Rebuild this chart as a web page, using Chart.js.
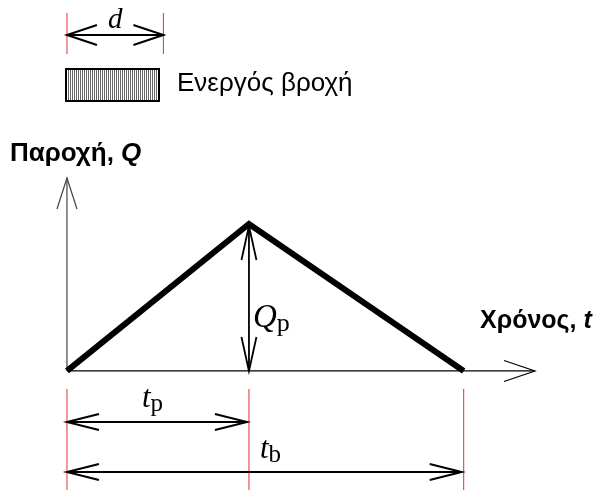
<!DOCTYPE html>
<html>
<head>
<meta charset="utf-8">
<script src="https://cdn.jsdelivr.net/npm/chart.js@4/dist/chart.umd.min.js"></script>
<style>
  body { margin: 0; background: #fff; }
  #wrap { width: 600px; height: 490px; }
</style>
</head>
<body>
<div id="wrap"><canvas id="hydro" width="600" height="490"></canvas></div>
<script>
// triangular hydrograph (relative units: tp = 1, Qp = 1)
var timeVals = [0, 1, 2.18];      // 0, tp, tb
var flowVals = [0, 1, 0];         // 0, Qp, 0
var rainDur = 0.53;               // d
var axisLabels = ['Παροχή, ', 'Q', 'Χρόνος, ', 't'];
var legendLabel = 'Ενεργός βροχή';

function arrowHead(c, x, y, dx, dy, len, half) { // open V head, apex at x,y
	var n = Math.sqrt(dx*dx + dy*dy); dx /= n; dy /= n;
	var bx = x - dx*len, by = y - dy*len;
	c.beginPath();
	c.moveTo(bx - dy*half, by + dx*half);
	c.lineTo(x, y);
	c.lineTo(bx + dy*half, by - dx*half);
	c.stroke();
}

function dimArrow(c, x1, x2, y, len, half) {
	c.beginPath(); c.moveTo(x1, y); c.lineTo(x2, y); c.stroke();
	arrowHead(c, x1, y, -1, 0, len, half);
	arrowHead(c, x2, y, 1, 0, len, half);
}

function subText(c, main, sub, x, y, size) { // italic symbol + roman subscript
	c.font = 'italic ' + size + 'px "Liberation Serif", "DejaVu Serif", serif';
	c.textAlign = 'left'; c.textBaseline = 'alphabetic';
	c.fillText(main, x, y);
	var w = c.measureText(main).width;
	c.font = Math.round(size*0.8) + 'px "Liberation Serif", "DejaVu Serif", serif';
	c.fillText(sub, x + w, y + size*0.12);
}

var drawing = {
	id: 'drawing',
	beforeDatasetsDraw: function(chart) {
		var c = chart.ctx, xs = chart.scales.x, ys = chart.scales.y;
		var X = function(v){ return xs.getPixelForValue(v); };
		var Y = function(v){ return ys.getPixelForValue(v); };
		var x0 = X(0), y0 = Y(0), xp = X(timeVals[1]), xb = X(timeVals[2]), yp = Y(flowVals[1]);
		c.save();
		c.lineCap = 'butt';
		// axes
		c.strokeStyle = '#444'; c.lineWidth = 1.2;
		c.beginPath(); c.moveTo(x0, y0); c.lineTo(x0, y0 - 193); c.stroke();
		arrowHead(c, x0, y0 - 193, 0, -1, 31, 10);
		c.strokeStyle = '#000';
		c.beginPath(); c.moveTo(x0, y0); c.lineTo(x0 + 468, y0); c.stroke();
		arrowHead(c, x0 + 468, y0, 1, 0, 31, 10.5);
		// Qp dimension
		c.lineWidth = 1.8;
		c.beginPath(); c.moveTo(xp, yp + 2); c.lineTo(xp, y0); c.stroke();
		arrowHead(c, xp, yp + 2, 0, -1, 34, 7.5);
		arrowHead(c, xp, y0, 0, 1, 34, 7.5);
		// red reference lines
		c.strokeStyle = '#e53030'; c.lineWidth = 1;
		[x0, xp, xb].forEach(function(x){
			c.beginPath(); c.moveTo(x, y0 + 18); c.lineTo(x, 490); c.stroke();
		});
		// tp, tb dimension arrows
		c.strokeStyle = '#000'; c.lineWidth = 2;
		dimArrow(c, x0, xp - 2, y0 + 51, 32, 8);
		dimArrow(c, x0, xb - 2, y0 + 101, 32, 8);
		c.fillStyle = '#000';
		subText(c, 't', 'p', 142, y0 + 36, 31);
		subText(c, 't', 'b', 260, y0 + 87, 31);
		subText(c, 'Q', 'p', 253, 327, 33);
		// d arrow
		var xd = X(rainDur);
		c.strokeStyle = '#e53030'; c.lineWidth = 1;
		[x0, xd].forEach(function(x){
			c.beginPath(); c.moveTo(x, 13); c.lineTo(x, 54); c.stroke();
		});
		c.strokeStyle = '#000'; c.lineWidth = 2;
		dimArrow(c, x0, xd, 35, 30, 10);
		c.font = 'italic 29px "Liberation Serif", serif';
		c.textAlign = 'center'; c.textBaseline = 'alphabetic';
		c.fillText('d', (x0 + xd)/2, 28);
		// legend box with hatching
		var bx = 65, by = 68, bw = 95, bh = 34;
		c.fillStyle = '#666';
		for (var hx = bx + 3; hx < bx + bw - 2; hx += 2) {
			c.fillRect(hx, by + 2, 1, bh - 4);
		}
		c.strokeStyle = '#000'; c.lineWidth = 2;
		c.strokeRect(bx + 1, by + 1, bw - 2, bh - 2);
		c.fillStyle = '#000';
		c.font = '26px "Liberation Sans", Arial, sans-serif';
		c.textAlign = 'left';
		c.fillText(legendLabel, 177, 91);
		// axis titles
		c.font = 'bold 26px "Liberation Sans", Arial, sans-serif';
		c.fillText(axisLabels[0], 10, 161);
		var w = c.measureText(axisLabels[0]).width;
		c.font = 'italic bold 26px "Liberation Sans", Arial, sans-serif';
		c.fillText(axisLabels[1], 10 + w, 161);
		c.font = 'bold 25px "Liberation Sans", Arial, sans-serif';
		c.fillText(axisLabels[2], 480, 328);
		w = c.measureText(axisLabels[2]).width;
		c.font = 'italic bold 25px "Liberation Sans", Arial, sans-serif';
		c.fillText(axisLabels[3], 480 + w, 328);
		c.restore();
	}
};

var pts = [];
for (var i = 0; i < timeVals.length; i++) pts.push({x: timeVals[i], y: flowVals[i]});

new Chart(document.getElementById('hydro').getContext('2d'), {
	type: 'scatter',
	data: {
		datasets: [{
			data: pts,
			showLine: true,
			borderColor: '#000',
			borderWidth: 6,
			pointRadius: 0,
			borderJoinStyle: 'miter',
			borderCapStyle: 'butt'
		}]
	},
	options: {
		responsive: false,
		animation: false,
		layout: { padding: 0 },
		plugins: { legend: { display: false }, tooltip: { enabled: false } },
		scales: {
			x: { display: false, min: -0.368, max: 2.929 },
			y: { display: false, min: -0.81, max: 2.524 }
		}
	},
	plugins: [drawing]
});
</script>
</body>
</html>
